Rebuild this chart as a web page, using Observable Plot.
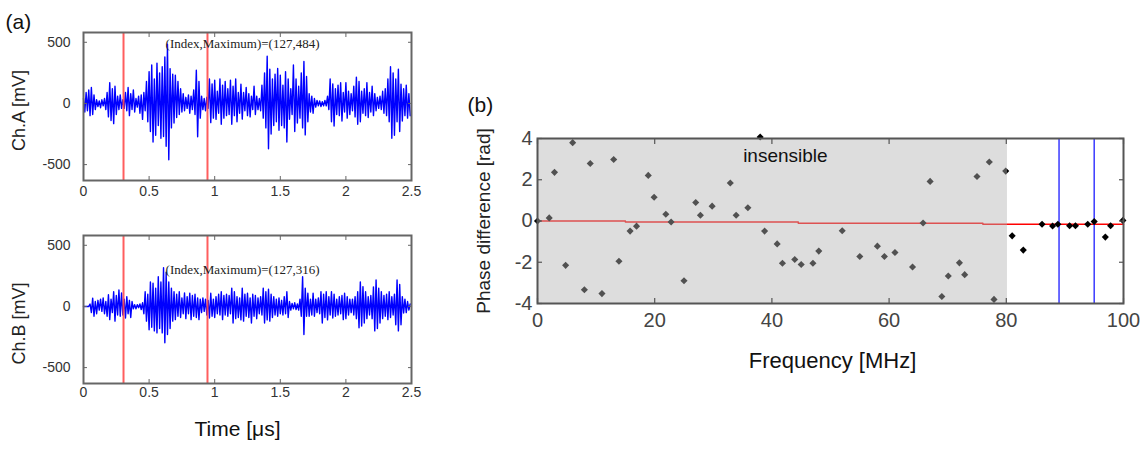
<!DOCTYPE html>
<html><head><meta charset="utf-8">
<script src="https://cdn.jsdelivr.net/npm/d3@7"></script>
<script src="https://cdn.jsdelivr.net/npm/@observablehq/plot@0.6"></script>
<style>
body{margin:0;background:#fff;}
#wrap{position:relative;width:1147px;height:452px;overflow:hidden;background:#fff;}
#wrap svg{position:absolute;background:transparent;max-width:none;}
</style></head><body><div id="wrap"></div>
<script>
// ---------- Panel (a): waveforms ----------
const timeStep = 0.01; // μs between samples
const chA = [
  40,-70,90,-60,110,-100,130,-90,70,-50,
  30,-25,20,-35,30,-20,40,-50,90,-110,
  170,-140,120,-165,140,-90,60,-50,70,-40,
  30,-40,90,-60,130,-100,80,-50,110,-70,
  40,-30,60,-80,70,-130,90,-60,180,-150,
  260,-230,315,-315,200,-260,330,-180,250,-285,
  300,-270,380,-350,484,-460,285,-200,240,-160,
  230,-115,180,-90,120,-70,80,-60,50,-40,
  70,-80,60,-50,110,-90,272,-272,180,-120,
  60,-50,40,-60,50,-40,200,-157,160,-120,
  190,-130,100,-80,200,-170,150,-120,180,-100,
  120,-90,190,-170,140,-100,200,-150,90,-80,
  157,-128,90,-60,130,-100,80,-110,60,-50,
  140,-90,60,-50,40,-60,150,-120,250,-200,
  386,-370,280,-250,200,-180,240,-150,286,-220,
  230,-180,150,-200,260,-315,200,-130,120,-90,
  315,-230,200,-160,140,-120,250,-200,343,-257,
  220,-150,80,-70,60,-80,40,-30,25,-20,
  20,-25,15,-20,25,-20,60,-50,200,-150,
  160,-185,120,-90,150,-100,170,-143,90,-70,
  170,-120,100,-90,80,-60,140,-110,215,-170,
  180,-150,100,-80,120,-100,170,-115,90,-70,
  140,-100,80,-60,50,-40,60,-50,100,-80,
  120,-100,200,-150,300,-285,250,-260,200,-150,
  280,-230,157,-143,120,-100,150,-120,80,-100
];
const chB = [
  0,0,0,0,0,20,-50,68,-80,40,
  -60,50,-30,60,-40,70,-60,40,-80,95,
  -108,60,-50,120,-120,90,-70,135,-80,110,
  -70,60,-95,80,-60,50,-90,40,-20,15,
  -20,15,-10,20,-25,30,-60,120,-120,100,
  -190,200,-170,190,-200,150,-216,243,-180,200,
  -216,316,-297,280,-230,200,-180,150,-120,120,
  -108,100,-80,120,-90,70,-60,110,-100,80,
  -60,108,-108,90,-80,100,-90,70,-108,60,
  -50,70,-40,60,-70,50,-95,108,-80,60,
  -90,80,-60,100,-70,120,-108,90,-70,100,
  -80,90,-60,150,-135,120,-100,80,-90,70,
  -110,150,-120,100,-80,108,-90,70,-135,100,
  -80,90,-100,70,-60,80,-70,150,-135,120,
  -110,140,-120,100,-90,80,-70,60,-80,70,
  -60,50,-70,80,-60,120,-90,40,-30,25,
  -20,30,-25,20,-30,60,-80,243,-230,150,
  -80,108,-80,60,-70,108,-80,60,-50,70,
  -60,120,-135,100,-90,120,-110,80,-70,120,
  -95,100,-80,60,-70,80,-60,90,-108,108,
  -100,80,-70,60,-50,60,-70,80,-100,120,
  -175,200,-160,162,-135,120,-100,80,-70,90,
  -100,160,-200,216,-180,150,-135,120,-100,90,
  -80,100,-108,120,-90,80,-70,100,-150,216,
  -200,180,-150,80,-54,60,-50,40,-30,20
];
const cursorTimes = [0.305, 0.945];
const waveTicksX = [0, 0.5, 1, 1.5, 2, 2.5];
const waveTicksY = [-500, 0, 500];
const noteA = "(Index,Maximum)=(127,484)";
const noteB = "(Index,Maximum)=(127,316)";

// ---------- Panel (b): phase difference ----------
const freqs = [0,2,2.9,4.8,6,8,9,11,13,13.9,15.8,16.9,18.9,19.9,21.9,22.8,25,27,27.8,29.8,32.9,33.9,35.9,38,38.75,40.9,41.8,43.9,45,47,48,52,55,58,59.2,61,64,65.8,67,69,70.1,72,72.9,75,77.1,77.9,79.9,81,82.9,86.1,87.9,88.8,90.8,91.8,93.9,95,96.9,97.8,99.9];
const phases = [0,0.15,2.36,-2.15,3.8,-3.33,2.79,-3.52,2.98,-1.95,-0.49,-0.25,2.21,1.15,0.33,-0.05,-2.9,0.9,0.28,0.72,1.84,0.28,0.64,4.07,-0.49,-1.11,-2.05,-1.87,-2.11,-2.05,-1.46,-0.47,-1.72,-1.22,-1.72,-1.53,-2.23,-0.1,1.92,-3.66,-2.67,-2.03,-2.6,2.16,2.86,-3.8,2.42,-0.72,-1.41,-0.16,-0.24,-0.16,-0.23,-0.23,-0.16,-0.03,-0.78,-0.23,0.03];
const fitFreqs = [0, 15, 44.5, 76, 100];
const fitPhases = [0, -0.05, -0.11, -0.16, -0.16];
const bandLines = [89, 95];
const insensibleRange = [[0, 80.2]];
const insensibleLabel = [{f: 42.3, p: 3.17, text: "insensible"}];
const freqTicks = [0, 20, 40, 60, 80, 100];
const phaseTicks = [-4, -2, 0, 2, 4];

const SANS = "Liberation Sans, Arial, Helvetica, sans-serif";
const SERIF = "Liberation Serif, Times New Roman, serif";
const wrap = document.getElementById("wrap");

function boxTicks(tx, ty, len, color, w) {
  const o = {tickSize: -len, tickFormat: () => "", label: null, stroke: color, strokeWidth: w};
  return [
    Plot.axisX(tx, {anchor: "bottom", ...o}),
    Plot.axisX(tx, {anchor: "top", ...o}),
    Plot.axisY(ty, {anchor: "left", ...o}),
    Plot.axisY(ty, {anchor: "right", ...o})
  ];
}

function wavePanel(values, opt) {
  const data = values.map((v, i) => ({t: i * timeStep, v}));
  const svg = Plot.plot({
    width: 430, height: opt.height,
    marginLeft: 83, marginRight: 19, marginTop: opt.mt, marginBottom: opt.mb,
    style: {background: "transparent", fontFamily: SANS, overflow: "visible"},
    x: {domain: [0, 2.5], axis: null},
    y: {domain: [-630, 580], axis: null},
    marks: [
      Plot.line(data, {x: "t", y: "v", stroke: "#0000ff", strokeWidth: 1.4}),
      Plot.ruleX(cursorTimes, {stroke: "#ff4d4d", strokeWidth: 2, strokeOpacity: 0.9}),
      Plot.text([opt.note], {frameAnchor: "top", dx: -5, dy: opt.noteDy, fontFamily: SERIF, fontSize: 13, fill: "#222"}),
      Plot.frame({stroke: "#666", strokeWidth: 2}),
      ...boxTicks(waveTicksX, waveTicksY, 4, "#666", 1),
      Plot.axisX(waveTicksX, {anchor: "bottom", tickSize: 0, tickPadding: opt.xPad, fontSize: 14, fill: "#333", label: null, tickFormat: d => String(d)}),
      Plot.axisY(waveTicksY, {anchor: "left", tickSize: 0, tickPadding: 13, fontSize: 14, fill: "#333", label: null, tickFormat: d => String(d)}),
      Plot.text([opt.ylabel], {frameAnchor: "left", textAnchor: "middle", dx: -64, dy: opt.yLabelDy, rotate: -90, fontSize: 18, fill: "#222"}),
      ...opt.extra
    ]
  });
  svg.style.left = "0px";
  svg.style.top = opt.top + "px";
  wrap.appendChild(svg);
}

wavePanel(chA, {
  height: 205, top: 0, mt: 32, mb: 25, note: noteA, noteDy: 6, xPad: 6,
  ylabel: "Ch.A [mV]", yLabelDy: 4,
  extra: [Plot.text(["(a)"], {frameAnchor: "top-left", dx: -78, dy: -18, textAnchor: "start", fontSize: 21, fill: "#111"})]
});
wavePanel(chB, {
  height: 247, top: 205, mt: 30, mb: 69, note: noteB, noteDy: 29, xPad: 4,
  ylabel: "Ch.B [mV]", yLabelDy: 14,
  extra: [Plot.text(["Time [μs]"], {frameAnchor: "bottom", dx: -10, dy: 52, fontSize: 21, fill: "#111"})]
});

// Panel (b)
const pts = freqs.map((f, i) => ({f, p: phases[i]}));
const fit = fitFreqs.map((f, i) => ({f, p: fitPhases[i]}));
const svgB = Plot.plot({
  width: 707, height: 452,
  marginLeft: 97, marginRight: 24, marginTop: 138, marginBottom: 149,
  style: {background: "transparent", fontFamily: SANS, overflow: "visible"},
  x: {domain: [0, 100], axis: null},
  y: {domain: [-4, 4], axis: null},
  marks: [
    Plot.line(fit, {x: "f", y: "p", curve: "step-after", stroke: "#ff0000", strokeWidth: 1.5}),
    Plot.ruleX(bandLines, {stroke: "#3a3aff", strokeWidth: 1.5}),
    Plot.dot(pts, {x: "f", y: "p", symbol: "diamond2", r: 3.2, fill: "#000", stroke: "none"}),
    Plot.rect(insensibleRange, {x1: d => d[0], x2: d => d[1], fill: "#b4b4b4", fillOpacity: 0.45}),
    Plot.text(insensibleLabel, {x: "f", y: "p", text: "text", fontSize: 19, fill: "#111"}),
    Plot.frame({stroke: "#555", strokeWidth: 2}),
    ...boxTicks(freqTicks, phaseTicks, 5, "#555", 1.2),
    Plot.axisX(freqTicks, {anchor: "bottom", tickSize: 0, tickPadding: 9, fontSize: 20, fill: "#444", label: null, tickFormat: d => String(d)}),
    Plot.axisY(phaseTicks, {anchor: "left", tickSize: 0, tickPadding: 5, fontSize: 20, fill: "#444", label: null, tickFormat: d => String(d)}),
    Plot.text(["Phase difference [rad]"], {frameAnchor: "left", textAnchor: "middle", dx: -54, rotate: -90, fontSize: 19, fill: "#222"}),
    Plot.text(["Frequency [MHz]"], {frameAnchor: "bottom", dx: 2, dy: 64, fontSize: 22, fill: "#111"}),
    Plot.text(["(b)"], {frameAnchor: "top-left", dx: -70, dy: -41, textAnchor: "start", fontSize: 21, fill: "#111"})
  ]
});
svgB.style.left = "440px";
svgB.style.top = "0px";
wrap.appendChild(svgB);
</script></body></html>
